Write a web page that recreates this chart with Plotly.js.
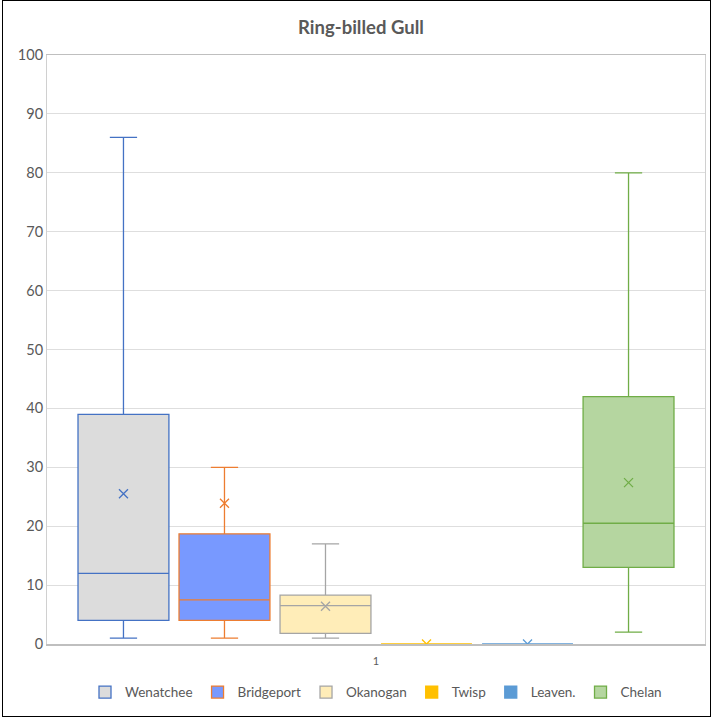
<!DOCTYPE html>
<html>
<head>
<meta charset="utf-8">
<script src="https://cdn.plot.ly/plotly-3.0.1.min.js"></script>
<style>
  html, body { margin: 0; padding: 0; background: #fff; }
  #chart { position: absolute; left: 0; top: 0; width: 712px; height: 719px; }
  #frame { position: absolute; left: 2px; top: 0px; width: 707px; height: 715px; border: 1.5px solid #000; pointer-events: none; }
</style>
</head>
<body>
<div id="chart"></div>
<div id="frame"></div>
<script>
// ---- data ----
const series = ['Wenatchee', 'Bridgeport', 'Okanogan', 'Twisp', 'Leaven.', 'Chelan'];
const lowerFence = [1, 1, 1, 0, 0, 2];
const q1Vals = [4, 4, 1.8, 0, 0, 13];
const medianVals = [12, 7.5, 6.5, 0, 0, 20.5];
const q3Vals = [39, 18.7, 8.3, 0, 0, 42];
const upperFence = [86, 30, 17, 0, 0, 80];
const meanVals = [25.5, 23.9, 6.4, 0, 0, 27.4];
const categoryLabels = ['1'];

// ---- styles ----
const fillColors = ['#dcdcdc', '#7899ff', '#ffedb8', '#ffc000', '#5b9bd5', '#b5d6a0'];
const lineColors = ['#4472c4', '#ed7d31', '#a5a5a5', '#ffc000', '#5b9bd5', '#70ad47'];

const n = series.length;
const center = (n - 1) / 2;
const traces = [];
series.forEach((name, i) => {
  traces.push({
    type: 'box',
    name: name,
    x: [i],
    q1: [q1Vals[i]],
    median: [medianVals[i]],
    q3: [q3Vals[i]],
    lowerfence: [lowerFence[i]],
    upperfence: [upperFence[i]],
    width: 0.9,
    whiskerwidth: 0.3,
    fillcolor: fillColors[i],
    line: { color: lineColors[i], width: 1.3 },
    hoverinfo: 'skip',
    showlegend: true
  });
});
series.forEach((name, i) => {
  traces.push({
    type: 'scatter',
    mode: 'markers',
    x: [i],
    y: [meanVals[i]],
    marker: { symbol: 'x-thin-open', size: 9, line: { color: lineColors[i], width: 1.3 }, color: lineColors[i] },
    showlegend: false,
    hoverinfo: 'skip'
  });
});

const halfSpan = 3.257;
const layout = {
  width: 712,
  height: 719,
  margin: { l: 47, r: 7, t: 55, b: 75 },
  paper_bgcolor: '#ffffff',
  plot_bgcolor: '#ffffff',
  font: { family: 'Lato, "Open Sans", sans-serif', color: '#595959' },
  title: {
    text: '<b>Ring-billed Gull</b>',
    x: 0.507, xanchor: 'center',
    y: 0.962, yanchor: 'middle',
    font: { size: 18.5, color: '#595959', family: 'Lato, "Open Sans", sans-serif' }
  },
  xaxis: {
    range: [center - halfSpan, center + halfSpan],
    tickvals: [center],
    ticktext: categoryLabels,
    showgrid: false,
    zeroline: false,
    showline: true,
    linecolor: '#bfbfbf',
    linewidth: 1.5,
    mirror: true,
    ticks: '',
    ticklabelstandoff: 6,
    tickfont: { size: 11, color: '#595959' },
    fixedrange: true
  },
  yaxis: {
    range: [0, 100],
    dtick: 10,
    showgrid: true,
    gridcolor: '#dedede',
    gridwidth: 1,
    zeroline: false,
    showline: true,
    linecolor: '#d0d0d0',
    linewidth: 1,
    mirror: true,
    ticks: '',
    tickfont: { size: 14.5, color: '#595959' },
    fixedrange: true
  },
  showlegend: true,
  legend: {
    orientation: 'h',
    x: 0.5, xanchor: 'center',
    y: -0.082, yanchor: 'middle',
    font: { size: 13.5, color: '#595959' },
    itemwidth: 30,
    traceorder: 'normal'
  }
};

Plotly.newPlot('chart', traces, layout, { displayModeBar: false, staticPlot: true });
</script>
</body>
</html>
